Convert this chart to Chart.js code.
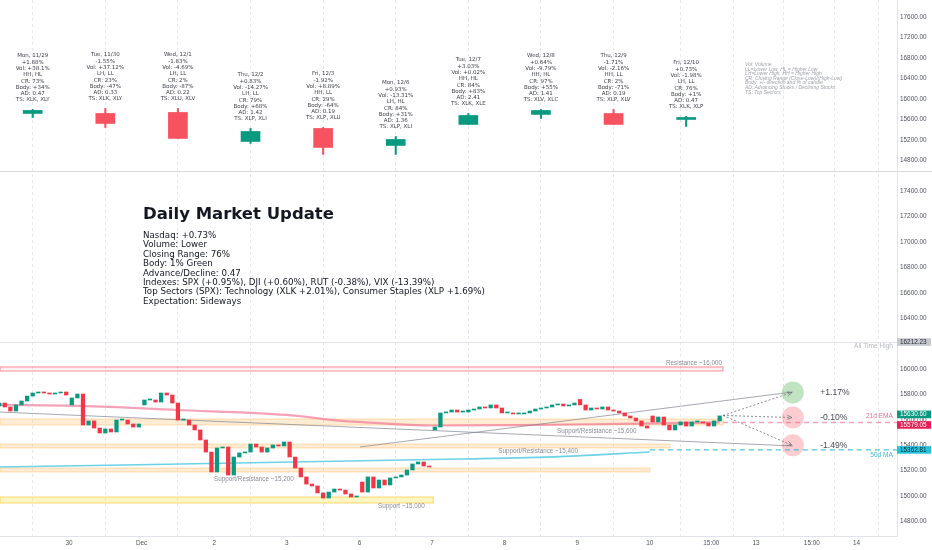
<!DOCTYPE html>
<html>
<head>
<meta charset="utf-8">
<title>Daily Market Update</title>
<script src="https://cdn.jsdelivr.net/npm/chart.js@4.4.1/dist/chart.umd.min.js"></script>
<style>
    html, body { margin: 0; padding: 0; background: #fff; }
    #wrap { position: relative; width: 932px; height: 550px; overflow: hidden; }
    #chart { position: absolute; left: 0; top: 0; }
    #title { position: absolute; left: 143px; top: 204px; font: bold 16.5px "DejaVu Sans"; color: #131722; white-space: nowrap; }
    #summary { position: absolute; left: 143px; top: 231px; font: 8.7px/9.37px "DejaVu Sans"; color: #131722; white-space: pre; }
    #legend { position: absolute; left: 745px; top: 62px; font: italic 5px/4.6px "Liberation Sans"; color: #a0a3ab; white-space: pre; }
</style>
</head>
<body>
<div id="wrap">
    <canvas id="chart" width="932" height="550"></canvas>
    <div id="title">Daily Market Update</div>
    <div id="summary">Nasdaq: +0.73%
Volume: Lower
Closing Range: 76%
Body: 1% Green
Advance/Decline: 0.47
Indexes: SPX (+0.95%), DJI (+0.60%), RUT (-0.38%), VIX (-13.39%)
Top Sectors (SPX): Technology (XLK +2.01%), Consumer Staples (XLP +1.69%)
Expectation: Sideways</div>
    <div id="legend">Vol: Volume
LL=Lower Low, HL = Higher Low
LH=Lower High, HH = Higher High
CR: Closing Range (Close-Low)/(High-Low)
Body: +/- direction and % of candle
AD: Advancing Stocks / Declining Stocks
TS: Top Sectors</div>
</div>
<script>
// --- Top pane: daily summary candles ---
const DAYS = ['Mon, 11/29', 'Tue, 11/30', 'Wed, 12/1', 'Thu, 12/2', 'Fri, 12/3', 'Mon, 12/6', 'Tue, 12/7', 'Wed, 12/8', 'Thu, 12/9', 'Fri, 12/10'];
const DAY_CHANGE = ['+1.88%', '-1.55%', '-1.83%', '+0.83%', '-1.92%', '+0.93%', '+3.03%', '+0.64%', '-1.71%', '+0.73%'];
const DAY_VOL = ['+38.1%', '+37.12%', '-4.69%', '-14.27%', '+8.89%', '-13.31%', '+0.02%', '-9.79%', '-2.16%', '-1.98%'];
const DAY_HL = ['HH, HL', 'LH, LL', 'LH, LL', 'LH, LL', 'HH, LL', 'LH, HL', 'HH, HL', 'HH, HL', 'HH, LL', 'LH, LL'];
const DAY_CR = ['73%', '23%', '2%', '79%', '29%', '84%', '84%', '97%', '2%', '76%'];
const DAY_BODY = ['+34%', '-47%', '-87%', '+68%', '-64%', '+31%', '+83%', '+55%', '-71%', '+1%'];
const DAY_AD = ['0.47', '0.33', '0.22', '1.42', '0.19', '1.36', '2.41', '1.41', '0.19', '0.47'];
const DAY_TS = ['XLK, XLY', 'XLK, XLY', 'XLU, XLV', 'XLP, XLI', 'XLP, XLU', 'XLP, XLI', 'XLK, XLE', 'XLV, XLC', 'XLP, XLV', 'XLK, XLP'];

const TOP_OPEN  = [15717, 15717, 15737, 15171, 15425, 15093, 15503, 15698, 15717, 15600];
const TOP_CLOSE = [15776, 15522, 15230, 15366, 15054, 15210, 15678, 15776, 15503, 15639];
const TOP_HIGH  = [15795, 15815, 15815, 15425, 15444, 15268, 15717, 15795, 15795, 15659];
const TOP_LOW   = [15639, 15444, 15230, 15132, 14918, 14918, 15503, 15620, 15503, 15464];

// --- Bottom pane: 30 min closes, 13 bars per session ---
const CLOSES = [
    15732, 15701, 15669, 15717, 15748, 15787, 15811, 15819, 15811, 15803, 15811, 15819, 15795, // 11/29
    15772, 15803, 15559, 15591, 15535, 15496, 15528, 15504, 15598, 15598, 15567, 15543, 15567, // 11/30
    15756, 15756, 15740, 15811, 15795, 15732, 15598, 15598, 15559, 15520, 15441, 15346, 15189, // 12/1
    15378, 15386, 15165, 15307, 15339, 15346, 15409, 15386, 15346, 15378, 15402, 15394, 15425, // 12/2
    15307, 15220, 15150, 15094, 15079, 15024, 14984, 15031, 15055, 15047, 15016, 14992, 15000, // 12/3
    15031, 15150, 15063, 15126, 15087, 15142, 15150, 15165, 15205, 15252, 15268, 15236, 15228, // 12/6
    15543, 15654, 15661, 15677, 15661, 15661, 15677, 15685, 15701, 15693, 15717, 15693, 15654, // 12/7
    15654, 15646, 15646, 15654, 15669, 15685, 15693, 15701, 15717, 15724, 15709, 15717, 15732, // 12/8
    15717, 15677, 15693, 15685, 15701, 15677, 15669, 15654, 15630, 15614, 15591, 15551, 15535, // 12/9
    15583, 15622, 15559, 15520, 15559, 15583, 15551, 15583, 15583, 15575, 15551, 15591, 15630.6 // 12/10
];
// session opens that gap away from the previous close
const GAP_OPENS = {0: 15709, 13: 15717, 26: 15717, 65: 15110, 78: 15520, 104: 15760, 117: 15630};

// Moving averages (bar index, price)
const EMA21 = [[0.14, 15717], [14.5, 15709], [31.8, 15677], [51.5, 15638], [59.8, 15598], [64.4, 15583], [77.7, 15555], [93, 15558], [111, 15568], [129, 15579]];
const MA50 = [[0.14, 15228], [82.5, 15291], [100.4, 15310], [116.5, 15346]];
const EMA21_LAST = 15579.05;
const MA50_LAST = 15362.81;
const LAST_PRICE = 15630.60;
const ATH = 16212.23;

// Support / resistance zones
const ZONE_LOW  = [15984, 15559, 15378, 15189, 14945];
const ZONE_HIGH = [16016, 15606, 15409, 15220, 14992];
const ZONE_END  = [129.6, 129.6, 120.1, 116.5, 77.7];
const ZONE_TEXT = ['Resistance ~16,000', 'Support/Resistance ~15,600', 'Support/Resistance ~15,400', 'Support/Resistance ~15,200', 'Support ~15,000'];
const ZONE_TEXT_AT = [[124.4, 16047], [107, 15512], [96.5, 15354], [45.6, 15134], [72, 14921]];

// Trend lines and scenario targets
const TREND_DOWN = [[0.14, 15661], [142.1, 15394]];
const TREND_UP = [[64.6, 15386], [142.1, 15819]];
const TARGETS = [15815, 15618, 15400];
const TARGET_TEXT = ['+1.17%', '-0.10%', '-1.49%'];
const TARGET_X = 142.1;
const ARROW_FROM = [129.6, 15634];

// Time axis
const X_TICK_POS = [12.5, 25.5, 38.5, 51.5, 64.5, 77.5, 90.5, 103.5, 116.5, 127.5, 135.5, 145.5, 153.5];
const X_TICK_LABELS = ['30', 'Dec', '2', '3', '6', '7', '8', '9', '10', '15:00', '13', '15:00', '14'];
const TOP_TICKS = [14800, 15200, 15600, 16000, 16400, 16800, 17200, 17600];
const BOT_TICKS = [14800, 15000, 15200, 15400, 15600, 15800, 16000, 16200, 16400, 16600, 16800, 17000, 17200, 17400];

const GREEN = '#089981';
const RED = '#f23645';
const AXIS_FONT = { family: 'Liberation Sans', size: 6.4 };

function toPoints(arr) {
    return arr.map(p => ({ x: p[0], y: p[1] }));
}

// Fixed axis sizes, no label overflow padding
function fitPriceAxis(axis) {
    axis.width = 35;
    axis.paddingTop = 0;
    axis.paddingBottom = 0;
}

// Подписи над дневными свечами, зоны, стрелки
const overlayPlugin = {
    id: 'overlay',
    beforeDatasetsDraw(chart) {
        const { ctx, chartArea, scales } = chart;
        const x = scales.x, yBot = scales.yBot;
        ctx.save();
        // all time high line
        ctx.strokeStyle = '#e3e5ea';
        ctx.lineWidth = 1;
        const yAth = Math.round(yBot.getPixelForValue(ATH)) + 0.5;
        ctx.beginPath();
        ctx.moveTo(chartArea.left, yAth);
        ctx.lineTo(chartArea.right, yAth);
        ctx.stroke();

        ZONE_LOW.forEach((lo, i) => {
            const x0 = chartArea.left;
            const x1 = x.getPixelForValue(ZONE_END[i]);
            const yTop = yBot.getPixelForValue(ZONE_HIGH[i]);
            const yLow = yBot.getPixelForValue(lo);
            if (i === 0) {
                ctx.fillStyle = 'rgba(242, 54, 69, 0.07)';
                ctx.strokeStyle = 'rgba(242, 54, 69, 0.55)';
            } else if (i === ZONE_LOW.length - 1) {
                ctx.fillStyle = 'rgba(255, 230, 90, 0.35)';
                ctx.strokeStyle = 'rgba(245, 200, 60, 0.7)';
            } else {
                ctx.fillStyle = 'rgba(255, 170, 60, 0.22)';
                ctx.strokeStyle = 'rgba(255, 170, 60, 0.35)';
            }
            ctx.fillRect(x0, yTop, x1 - x0, yLow - yTop);
            ctx.strokeRect(x0, yTop, x1 - x0, yLow - yTop);
        });
        ctx.restore();
    },
    afterDatasetsDraw(chart) {
        const { ctx, chartArea, scales } = chart;
        const x = scales.x, yTop = scales.yTop, yBot = scales.yBot;
        ctx.save();

        // daily notes above the summary candles
        ctx.fillStyle = '#3d3f47';
        ctx.font = '5.5px "DejaVu Sans"';
        ctx.textAlign = 'center';
        ctx.textBaseline = 'alphabetic';
        DAYS.forEach((day, k) => {
            const lines = [day, DAY_CHANGE[k], 'Vol: ' + DAY_VOL[k], DAY_HL[k], 'CR: ' + DAY_CR[k],
                'Body: ' + DAY_BODY[k], 'AD: ' + DAY_AD[k], 'TS: ' + DAY_TS[k]];
            const cx = x.getPixelForValue(13 * k + 6);
            const lastBase = yTop.getPixelForValue(TOP_HIGH[k]) - 8;
            lines.forEach((t, j) => {
                ctx.fillText(t, cx, lastBase - (lines.length - 1 - j) * 6.3);
            });
        });

        // zone captions
        ctx.fillStyle = '#8a8d96';
        ctx.font = '6.3px "Liberation Sans"';
        ctx.textBaseline = 'middle';
        ZONE_TEXT.forEach((t, i) => {
            ctx.fillText(t, x.getPixelForValue(ZONE_TEXT_AT[i][0]), yBot.getPixelForValue(ZONE_TEXT_AT[i][1]));
        });

        // right side captions
        ctx.textAlign = 'right';
        ctx.fillStyle = '#b7bac1';
        ctx.font = '6.6px "Liberation Sans"';
        const capX = chartArea.right - 4;
        ctx.fillText('All Time High', capX, yBot.getPixelForValue(ATH) + 4);
        ctx.fillStyle = '#ec6d8f';
        ctx.fillText('21d EMA', capX, yBot.getPixelForValue(EMA21_LAST) - 6);
        ctx.fillStyle = '#3bbcd0';
        ctx.fillText('50d MA', capX, yBot.getPixelForValue(MA50_LAST) + 5);

        // scenario arrows
        const fx = x.getPixelForValue(ARROW_FROM[0]);
        const fy = yBot.getPixelForValue(ARROW_FROM[1]);
        ctx.strokeStyle = '#6d7079';
        ctx.lineWidth = 0.8;
        TARGETS.forEach(t => {
            const tx = x.getPixelForValue(TARGET_X) - 1;
            const ty = yBot.getPixelForValue(t);
            ctx.setLineDash([2, 2]);
            ctx.beginPath();
            ctx.moveTo(fx, fy);
            ctx.lineTo(tx, ty);
            ctx.stroke();
            ctx.setLineDash([]);
            const a = Math.atan2(ty - fy, tx - fx);
            ctx.beginPath();
            ctx.moveTo(tx - 5 * Math.cos(a - 0.45), ty - 5 * Math.sin(a - 0.45));
            ctx.lineTo(tx, ty);
            ctx.lineTo(tx - 5 * Math.cos(a + 0.45), ty - 5 * Math.sin(a + 0.45));
            ctx.stroke();
        });

        // scenario percentages
        ctx.textAlign = 'left';
        ctx.fillStyle = '#4a4d55';
        ctx.font = '8.6px "Liberation Sans"';
        TARGETS.forEach((t, i) => {
            ctx.fillText(TARGET_TEXT[i], x.getPixelForValue(147), yBot.getPixelForValue(t));
        });
        ctx.restore();
    },
    afterDraw(chart) {
        const { ctx, chartArea, scales } = chart;
        const yTop = scales.yTop, yBot = scales.yBot;
        ctx.save();
        // pane divider
        ctx.strokeStyle = '#d6d8de';
        ctx.lineWidth = 1;
        const yDiv = Math.round(yTop.bottom) + 0.5;
        ctx.beginPath();
        ctx.moveTo(0, yDiv);
        ctx.lineTo(chart.width, yDiv);
        ctx.stroke();

        // price tags on the right scale
        const tags = [
            [ATH, '#c5c8ce', '#2a2e39'],
            [LAST_PRICE, GREEN, '#ffffff'],
            [EMA21_LAST, '#e91e55', '#ffffff'],
            [MA50_LAST, '#22c3db', '#0f2a3a']
        ];
        ctx.font = '6.4px "Liberation Sans"';
        ctx.textAlign = 'left';
        ctx.textBaseline = 'middle';
        tags.forEach(([v, bg, fg]) => {
            let yy = yBot.getPixelForValue(v);
            if (v === EMA21_LAST) yy += 2.5;
            if (v === LAST_PRICE) yy -= 1.5;
            ctx.fillStyle = bg;
            ctx.fillRect(chartArea.right, yy - 3.8, 34, 7.6);
            ctx.fillStyle = fg;
            ctx.fillText(v.toFixed(2), chartArea.right + 3, yy + 0.3);
        });
        ctx.restore();
    }
};

function initChart() {
    const canvas = document.getElementById('chart');
    if (!canvas || typeof Chart === 'undefined') return;

    // Свечи нижней панели
    const opens = CLOSES.map((c, i) => (GAP_OPENS[i] !== undefined ? GAP_OPENS[i] : CLOSES[i - 1]));
    const bodyData = CLOSES.map((c, i) => ({ x: i, y: [opens[i], c] }));
    const bodyColors = CLOSES.map((c, i) => (c >= opens[i] ? GREEN : RED));

    const topDays = DAYS.map((d, k) => 13 * k + 6);
    const topBody = topDays.map((xv, k) => ({ x: xv, y: [TOP_OPEN[k], TOP_CLOSE[k]] }));
    const topWick = topDays.map((xv, k) => ({ x: xv, y: [TOP_LOW[k], TOP_HIGH[k]] }));
    const topColors = TOP_CLOSE.map((c, k) => (c >= TOP_OPEN[k] ? GREEN : '#f7525f'));

    new Chart(canvas, {
        type: 'bar',
        data: {
            datasets: [
                {
                    label: 'daily body', data: topBody, yAxisID: 'yTop',
                    backgroundColor: topColors, borderWidth: 0, barThickness: 19, grouped: false, order: 1
                },
                {
                    label: 'daily wick', data: topWick, yAxisID: 'yTop',
                    backgroundColor: topColors, borderWidth: 0, barThickness: 1.4, grouped: false, order: 2
                },
                {
                    label: 'NQ 30m', data: bodyData, yAxisID: 'yBot',
                    backgroundColor: bodyColors, borderWidth: 0, barThickness: 3.6, minBarLength: 1, grouped: false, order: 1
                },
                {
                    type: 'line', label: '21d EMA', data: toPoints(EMA21), yAxisID: 'yBot',
                    borderColor: 'rgba(236, 100, 140, 0.6)', borderWidth: 2.2, pointRadius: 0,
                    cubicInterpolationMode: 'monotone', order: 5
                },
                {
                    type: 'line', label: '50d MA', data: toPoints(MA50), yAxisID: 'yBot',
                    borderColor: 'rgba(60, 195, 220, 0.75)', borderWidth: 1.6, pointRadius: 0,
                    cubicInterpolationMode: 'monotone', order: 5
                },
                {
                    type: 'line', label: '21d EMA ext', data: [{ x: 129.6, y: EMA21_LAST }, { x: 160.75, y: EMA21_LAST }], yAxisID: 'yBot',
                    borderColor: 'rgba(236, 100, 140, 0.6)', borderWidth: 1.4, borderDash: [5, 4], pointRadius: 0, order: 5
                },
                {
                    type: 'line', label: '50d MA ext', data: [{ x: 116.5, y: MA50_LAST }, { x: 160.75, y: MA50_LAST }], yAxisID: 'yBot',
                    borderColor: 'rgba(40, 190, 215, 0.85)', borderWidth: 1.4, borderDash: [5, 4], pointRadius: 0, order: 5
                },
                {
                    type: 'line', label: 'trend down', data: toPoints(TREND_DOWN), yAxisID: 'yBot',
                    borderColor: 'rgba(120, 123, 134, 0.65)', borderWidth: 1, pointRadius: 0, order: 4
                },
                {
                    type: 'line', label: 'trend up', data: toPoints(TREND_UP), yAxisID: 'yBot',
                    borderColor: 'rgba(120, 123, 134, 0.65)', borderWidth: 1, pointRadius: 0, order: 4
                },
                {
                    type: 'scatter', label: 'targets', yAxisID: 'yBot',
                    data: TARGETS.map(t => ({ x: TARGET_X, y: t })),
                    backgroundColor: ['rgba(76, 175, 80, 0.35)', 'rgba(242, 54, 69, 0.25)', 'rgba(242, 54, 69, 0.25)'],
                    borderWidth: 0, pointRadius: 11, order: 6
                }
            ]
        },
        options: {
            responsive: false,
            animation: false,
            events: [],
            layout: { padding: 0, autoPadding: false },
            plugins: { legend: { display: false }, tooltip: { enabled: false } },
            scales: {
                x: {
                    type: 'linear', min: 0.1446, max: 160.75, offset: false,
                    afterBuildTicks: axis => { axis.ticks = X_TICK_POS.map(v => ({ value: v })); },
                    afterFit: axis => { axis.height = 14; axis.paddingLeft = 0; axis.paddingRight = 0; },
                    ticks: {
                        autoSkip: false, maxRotation: 0, padding: 3,
                        color: '#50535e', font: AXIS_FONT,
                        callback: (v, i) => X_TICK_LABELS[i]
                    },
                    grid: { color: '#e6e8ed', drawTicks: false },
                    border: { color: '#e0e3eb', dash: [3, 3] }
                },
                yTop: {
                    type: 'linear', position: 'right', stack: 'panes', stackWeight: 171,
                    min: 14595, max: 17930,
                    afterBuildTicks: axis => { axis.ticks = TOP_TICKS.map(v => ({ value: v })); },
                    afterFit: fitPriceAxis,
                    ticks: { autoSkip: false, padding: 3, color: '#50535e', font: AXIS_FONT, callback: v => v.toFixed(2) },
                    grid: { display: false, drawTicks: false },
                    border: { color: '#e0e3eb' }
                },
                yBot: {
                    type: 'linear', position: 'right', stack: 'panes', stackWeight: 365,
                    min: 14685, max: 17559,
                    afterBuildTicks: axis => { axis.ticks = BOT_TICKS.map(v => ({ value: v })); },
                    afterFit: fitPriceAxis,
                    ticks: { autoSkip: false, padding: 3, color: '#50535e', font: AXIS_FONT, callback: v => v.toFixed(2) },
                    grid: { display: false, drawTicks: false },
                    border: { color: '#e0e3eb' }
                }
            }
        },
        plugins: [overlayPlugin]
    });
}

if (document.readyState === 'loading') {
    document.addEventListener('DOMContentLoaded', initChart);
} else {
    initChart();
}
</script>
</body>
</html>
